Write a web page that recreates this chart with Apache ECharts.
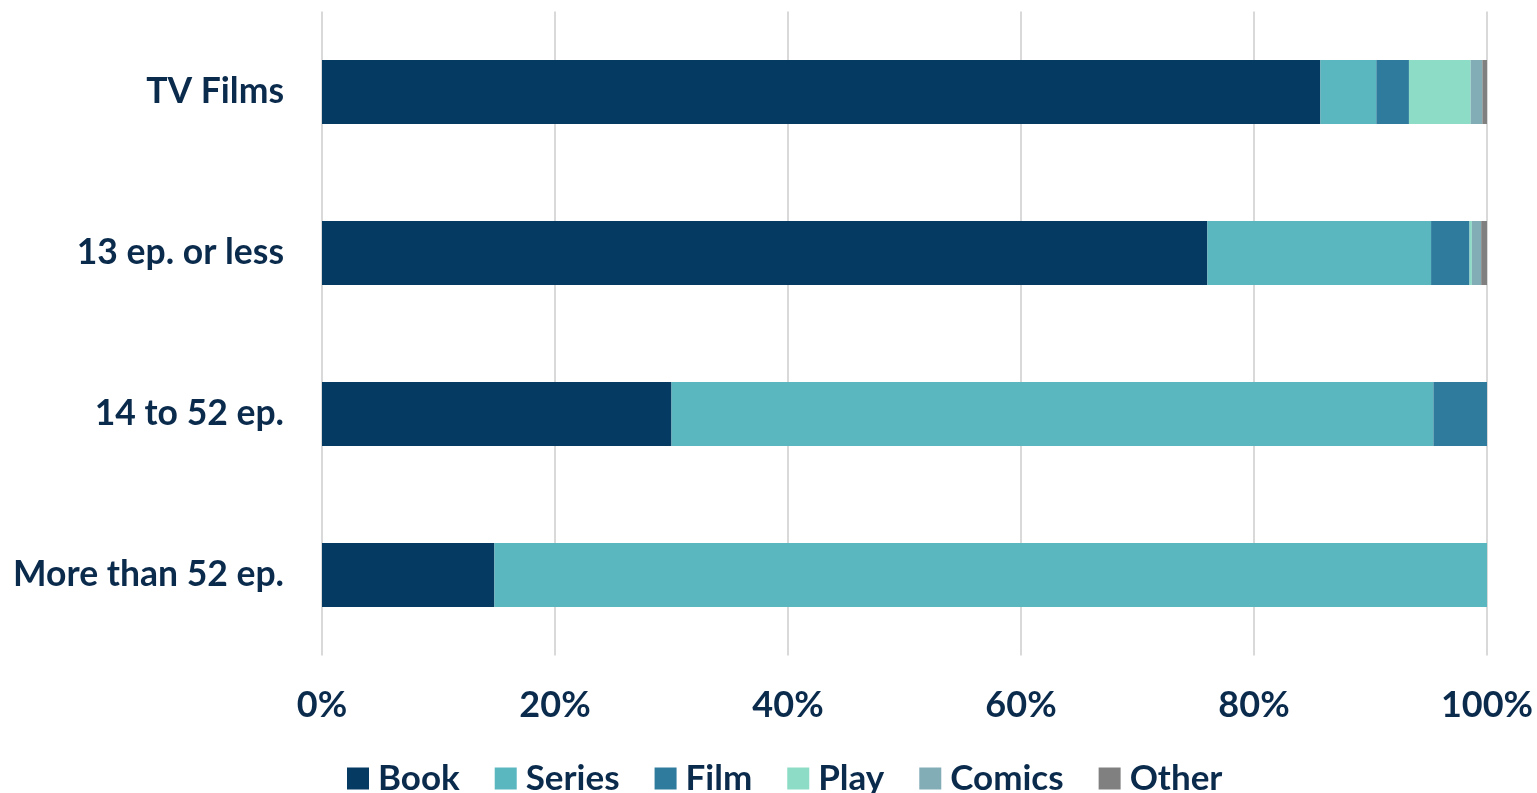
<!DOCTYPE html>
<html>
<head>
<meta charset="utf-8">
<script src="https://cdn.jsdelivr.net/npm/echarts@6/dist/echarts.min.js"></script>
<style>
  html, body { margin: 0; padding: 0; background: #fff; }
  #chart { width: 1537px; height: 793px; }
</style>
</head>
<body>
<div id="chart"></div>
<script>
var categories = ['TV Films', '13 ep. or less', '14 to 52 ep.', 'More than 52 ep.'];
var book   = [85.7, 76.0, 30.0, 14.8];
var series = [4.8, 19.2, 65.4, 85.2];
var film   = [2.8, 3.3, 4.6, 0];
var play   = [5.3, 0.2, 0, 0];
var comics = [1.0, 0.8, 0, 0];
var other  = [0.4, 0.5, 0, 0];

var textColor = '#0b2b4d';
var font = 'Lato';

function bar(name, data, color) {
    return {
        name: name,
        type: 'bar',
        stack: 'total',
        barWidth: 64,
        itemStyle: { color: color },
        data: data
    };
}

var option = {
    animation: false,
    backgroundColor: '#fff',
    textStyle: { fontFamily: font },
    grid: { left: 322, right: 50, top: 11.5, bottom: 137.5 },
    legend: {
        bottom: -8,
        left: 342,
        itemWidth: 22,
        itemHeight: 22,
        itemGap: 35,
        icon: 'rect',
        textStyle: { fontSize: 35, fontWeight: 'bold', color: textColor, fontFamily: font, padding: [0, 0, 0, 4] },
        data: ['Book', 'Series', 'Film', 'Play', 'Comics', 'Other']
    },
    xAxis: {
        type: 'value',
        min: 0,
        max: 100,
        interval: 20,
        axisLine: { show: false },
        axisTick: { show: false },
        splitLine: { lineStyle: { color: '#d9d9d9', width: 2 } },
        axisLabel: {
            formatter: '{value}%',
            fontSize: 36,
            fontWeight: 'bold',
            color: textColor,
            margin: 32
        }
    },
    yAxis: {
        type: 'category',
        inverse: true,
        data: categories,
        axisLine: { show: false },
        axisTick: { show: false },
        axisLabel: {
            fontSize: 35.5,
            fontWeight: 'bold',
            color: textColor,
            margin: 38
        }
    },
    series: [
        bar('Book', book, '#053a62'),
        bar('Series', series, '#5ab6bf'),
        bar('Film', film, '#2e7b9e'),
        bar('Play', play, '#8ddcc6'),
        bar('Comics', comics, '#82acb6'),
        bar('Other', other, '#808080')
    ]
};

var myChart = echarts.init(document.getElementById('chart'));
myChart.setOption(option);
</script>
</body>
</html>
